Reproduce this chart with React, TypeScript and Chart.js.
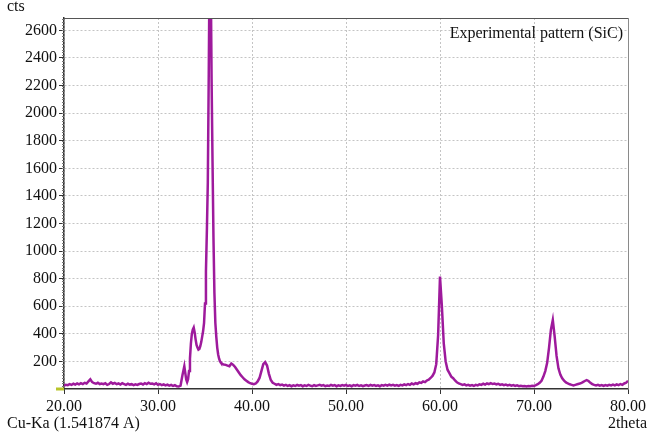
import { useEffect, useRef } from "react";
import { Chart, registerables } from "chart.js";

Chart.register(...registerables);

// 2theta segments (start, step) and counts
const seg1Start = 20.0;
const seg1Step = 0.2;
const seg1Counts = [
  25, 30, 28, 35, 30, 38, 32, 40, 34, 42, 36, 45, 40, 55, 70, 50, 42, 38, 45, 36,
  40, 35, 42, 30, 36, 48, 38, 44, 35, 40, 32, 42, 36, 30, 38, 32, 35, 28, 34, 30,
  36, 40, 33, 42, 36, 45, 38, 40, 34, 42, 30, 36, 28, 34, 26, 32, 24, 30, 22, 28,
  20, 18, 25, 100, 165, 70,
];

const seg2Start = 33.1;
const seg2Step = 0.1;
const seg2Counts = [
  50, 70, 130, 220, 330, 400, 430, 445, 410, 360,
  320, 300, 285, 290, 310, 340, 380, 420, 480, 620,
  850, 1150, 1500, 2290, 3200, 3100, 2250, 1650, 1100, 700,
  480, 380, 300, 250, 220, 200, 190, 185, 180, 178,
];

const seg3Start = 37.2;
const seg3Step = 0.2;
const seg3Counts = [
  175, 170, 165, 185, 175, 160, 140, 120, 100, 85, 70, 60, 50, 42, 38, 35, 40, 55, 80, 130,
  180, 195, 170, 110, 65, 45, 38, 30, 35, 28, 32, 25, 30, 22, 28, 20, 26, 22, 30, 24,
  28, 20, 26, 22, 30, 25, 20, 28, 22, 26, 30, 24, 28, 20, 25, 22, 30, 24, 28, 20,
  26, 22, 28, 24, 30, 22, 26, 20, 28, 24, 30, 22, 26, 20, 25, 28, 22, 30, 24, 28,
  22, 26, 20, 28, 24, 30, 25, 32, 26, 30, 24, 28, 22, 30, 26, 34, 28, 36, 30, 40,
  34, 42, 38, 48, 44, 55, 50, 62, 68, 80, 95, 120, 180, 390, 815, 600, 330, 200, 140, 115,
  90, 78, 62, 48, 40, 35, 30, 34, 26, 30, 24, 28, 22, 30, 26, 34, 30, 38, 32, 40,
  35, 42, 36, 40, 34, 38, 30, 34, 28, 32, 26, 30, 24, 28, 22, 26, 20, 24, 20, 22,
  18, 22, 20, 24, 22, 28, 35, 45, 60, 90, 130, 190, 300, 430, 500, 380, 240, 150, 105, 78,
  60, 48, 40, 34, 30, 26, 30, 34, 38, 42, 50, 58, 65, 58, 45, 36, 30, 26, 30, 24,
  28, 22, 28, 24, 30, 26, 32, 26, 34, 28, 36, 30, 40, 45, 60,
];

const xTickValues = [20, 30, 40, 50, 60, 70, 80];
const yTickValues = [200, 400, 600, 800, 1000, 1200, 1400, 1600, 1800, 2000, 2200, 2400, 2600];

const X_MIN = 20;
const X_MAX = 80;
const Y_MIN = 0;
const Y_MAX = 2690;

const yTitle = "cts";
const xTitle = "2theta";
const sourceLabel = "Cu-Ka (1.541874 A)";
const seriesLabel = "Experimental pattern (SiC)";

function buildPoints() {
  const pts: { x: number; y: number }[] = [];
  const add = (start: number, step: number, arr: number[]) => {
    arr.forEach((v, i) => pts.push({ x: Math.round((start + i * step) * 100) / 100, y: v }));
  };
  add(seg1Start, seg1Step, seg1Counts);
  add(seg2Start, seg2Step, seg2Counts);
  add(seg3Start, seg3Step, seg3Counts);
  return pts;
}

const FONT = "'Liberation Serif', 'Times New Roman', serif";
Chart.defaults.font.family = FONT;

export default function App() {
  const ref = useRef<HTMLCanvasElement | null>(null);

  useEffect(() => {
    document.body.style.margin = "0";
    const canvas = ref.current;
    if (!canvas) return;

    const overlay = {
      id: "overlay",
      afterDraw(chart: any) {
        const { ctx, chartArea } = chart;
        const ys = chart.scales.y;
        ctx.save();
        ctx.setLineDash([]);
        // top and right borders
        ctx.lineWidth = 1;
        ctx.strokeStyle = "#555";
        ctx.beginPath();
        ctx.moveTo(chartArea.left, chartArea.top + 0.5);
        ctx.lineTo(chartArea.right, chartArea.top + 0.5);
        ctx.stroke();
        ctx.strokeStyle = "#8a8a8a";
        ctx.beginPath();
        ctx.moveTo(chartArea.right + 0.5, chartArea.top);
        ctx.lineTo(chartArea.right + 0.5, chartArea.bottom);
        ctx.stroke();
        // minor ticks on the left axis
        ctx.strokeStyle = "#777";
        ctx.beginPath();
        for (let v = 20; v <= Y_MAX; v += 20) {
          const py = Math.round(ys.getPixelForValue(v)) + 0.5;
          ctx.moveTo(chartArea.left - 2, py);
          ctx.lineTo(chartArea.left, py);
        }
        ctx.stroke();
        // zero marker
        const y0 = ys.getPixelForValue(0);
        ctx.strokeStyle = "#b8c42a";
        ctx.lineWidth = 3;
        ctx.beginPath();
        ctx.moveTo(chartArea.left - 8, y0);
        ctx.lineTo(chartArea.left, y0);
        ctx.stroke();
        // texts
        ctx.fillStyle = "#111";
        ctx.font = `16px ${FONT}`;
        ctx.textBaseline = "alphabetic";
        ctx.textAlign = "left";
        ctx.fillText(yTitle, 7, 11);
        ctx.fillText(sourceLabel, 7, 428);
        ctx.textAlign = "right";
        ctx.fillText(xTitle, 647, 428);
        ctx.fillText(seriesLabel, 623, 38);
        ctx.restore();
      },
    };

    const gridOpts = {
      color: "#c4c4c4",
      lineWidth: 1,
      tickLength: 5,
      tickColor: "#333",
      tickBorderDash: [],
      tickWidth: 1,
    };

    const chart = new Chart(canvas, {
      type: "line",
      data: {
        datasets: [
          {
            label: seriesLabel,
            data: buildPoints(),
            borderColor: "#9e1a9c",
            borderWidth: 2.5,
            pointRadius: 0,
            tension: 0,
            fill: false,
          },
        ],
      },
      options: {
        responsive: false,
        animation: false,
        devicePixelRatio: 1,
        layout: { padding: { top: 18, right: 17, left: 0, bottom: 0 } },
        plugins: {
          legend: { display: false },
          tooltip: { enabled: false },
        },
        scales: {
          x: {
            type: "linear",
            min: X_MIN,
            max: X_MAX,
            afterBuildTicks: (s: any) => {
              s.ticks = xTickValues.map((v) => ({ value: v }));
            },
            afterFit: (s: any) => {
              s.height = 46;
            },
            ticks: {
              autoSkip: false,
              maxRotation: 0,
              padding: 3,
              color: "#111",
              font: { family: FONT, size: 16 },
              callback: (v: any) => Number(v).toFixed(2),
            },
            grid: gridOpts,
            border: { display: true, color: "#333", width: 1.5, dash: [2, 2] },
          },
          y: {
            type: "linear",
            min: Y_MIN,
            max: Y_MAX,
            afterBuildTicks: (s: any) => {
              s.ticks = yTickValues.map((v) => ({ value: v }));
            },
            afterFit: (s: any) => {
              s.width = 64;
            },
            ticks: {
              autoSkip: false,
              padding: 2,
              color: "#111",
              font: { family: FONT, size: 16 },
              callback: (v: any) => String(v),
            },
            grid: gridOpts,
            border: { display: true, color: "#333", width: 1.5, dash: [2, 2] },
          },
        },
      },
      plugins: [overlay],
    } as any);

    return () => chart.destroy();
  }, []);

  return (
    <div style={{ width: 649, height: 435, background: "#fff" }}>
      <canvas ref={ref} width={649} height={435} style={{ display: "block" }} />
    </div>
  );
}
